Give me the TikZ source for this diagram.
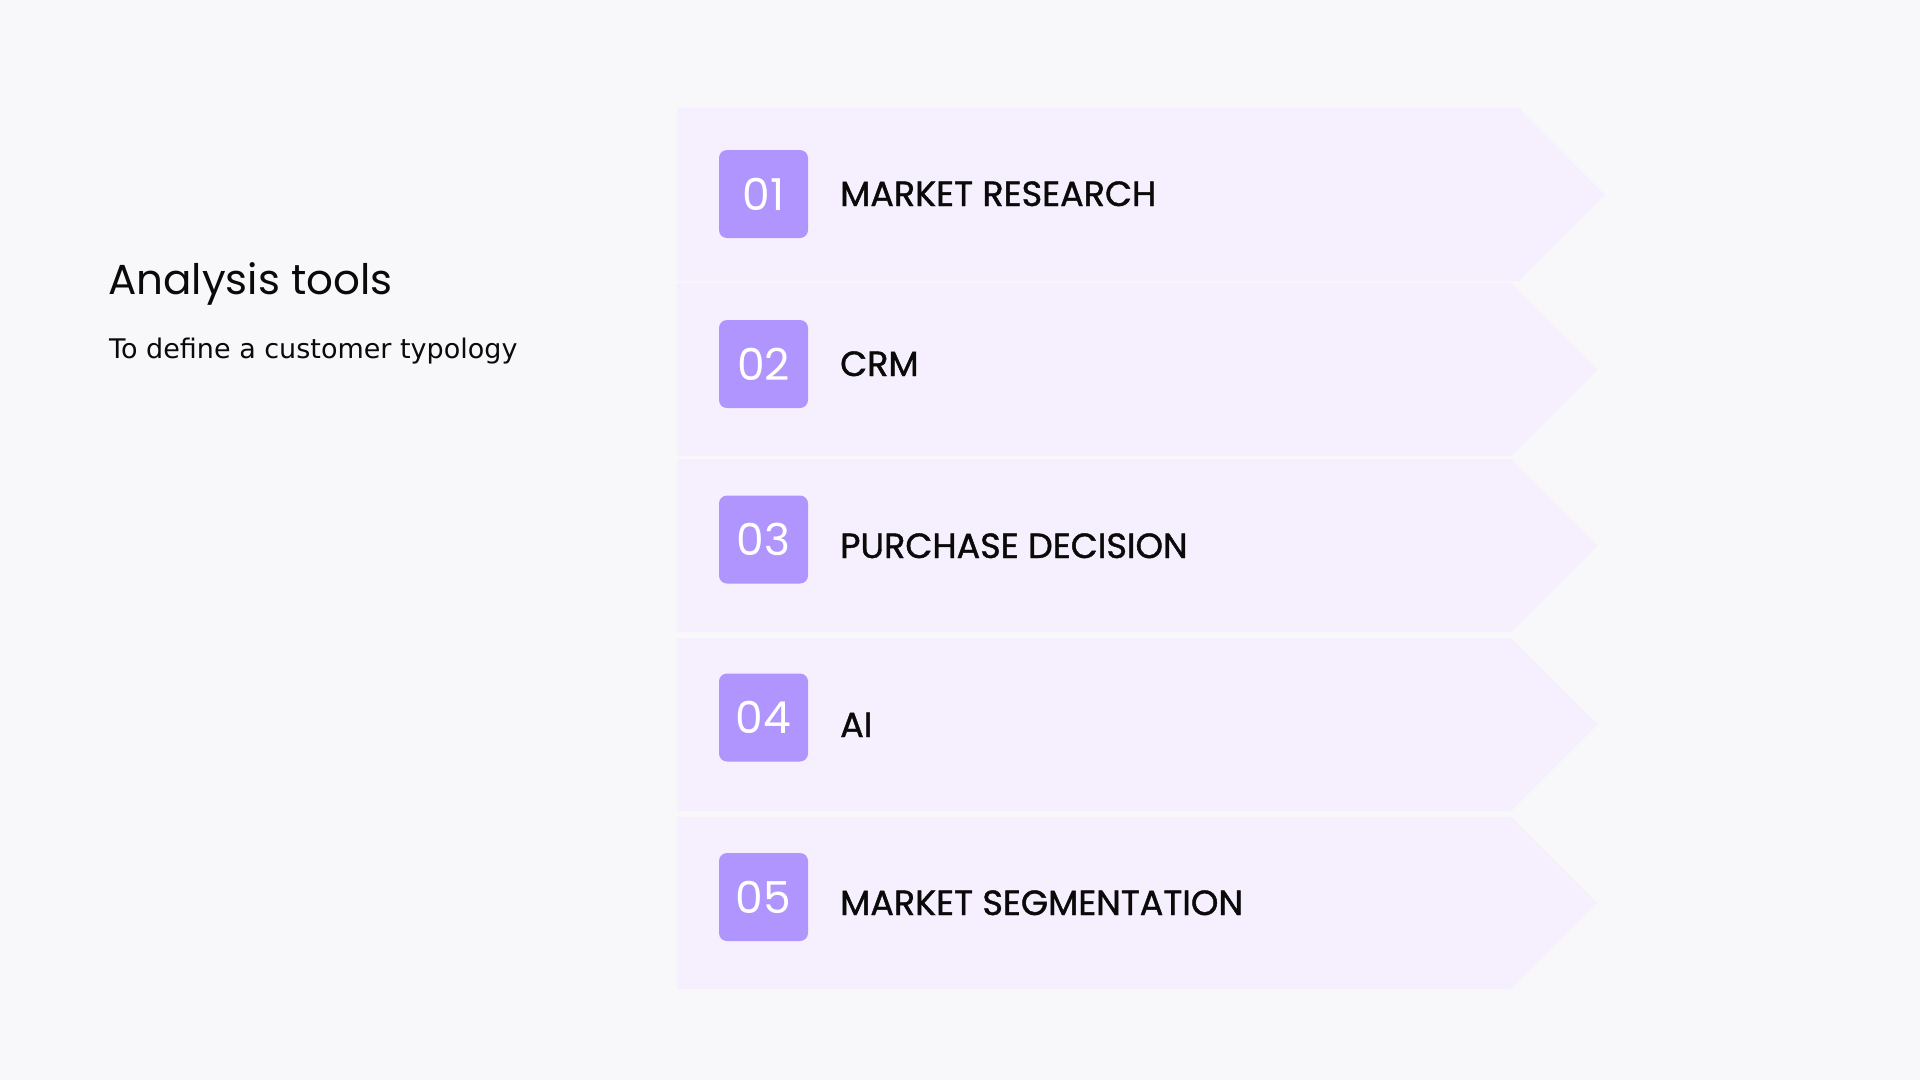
\documentclass[tikz,border=0pt]{standalone}
\usepackage{fontspec}
\setmainfont{Poppins}
\newfontfamily\subfont{DejaVu Sans}
\newfontfamily\labfont{Poppins}[FakeBold=1.2]
\definecolor{bg}{HTML}{F8F8FA}
\definecolor{band}{HTML}{F6F0FE}
\definecolor{badge}{HTML}{AF95FD}
\definecolor{ink}{HTML}{0A0A0A}
\tikzset{
  chevron/.style={fill=band, draw=none},
  badgebox/.style={fill=badge, rounded corners=8pt, minimum width=89pt, minimum height=88pt, inner sep=0pt},
  numtext/.style={text=white, font=\fontsize{44}{44}\selectfont, inner sep=0pt},
  labtext/.style={text=ink, font=\labfont\fontsize{35}{35}\selectfont, anchor=base west, inner sep=0pt},
}
\begin{document}
\begin{tikzpicture}[x=1pt,y=-1pt]
\fill[bg] (0,0) rectangle (1920,1080);
\useasboundingbox (0,0) rectangle (1920,1080);

% chevron bands
\fill[chevron] (677,108) -- (1519,108) -- (1605,194.5) -- (1519,281) -- (677,281) -- cycle;
\fill[chevron] (677,283) -- (1511,283) -- (1597.5,369.5) -- (1511,456) -- (677,456) -- cycle;
\fill[chevron] (677,459) -- (1511,459) -- (1597.5,545.5) -- (1511,632) -- (677,632) -- cycle;
\fill[chevron] (677,638) -- (1511,638) -- (1597.5,724.5) -- (1511,811) -- (677,811) -- cycle;
\fill[chevron] (677,817) -- (1511,817) -- (1597,903) -- (1511,989) -- (677,989) -- cycle;

% badges
\node[badgebox] (b1) at (763.5,194) {};
\node[badgebox] (b2) at (763.5,364) {};
\node[badgebox] (b3) at (763.5,539.5) {};
\node[badgebox] (b4) at (763.5,717.5) {};
\node[badgebox] (b5) at (763.5,897) {};
\node[numtext] (n1) at (b1) {01};
\node[numtext] (n2) at (b2) {02};
\node[numtext] (n3) at (b3) {03};
\node[numtext] (n4) at (b4) {04};
\node[numtext] (n5) at (b5) {05};

% labels
\node[labtext] (l1) at (840,206) {MARKET RESEARCH};
\node[labtext] (l2) at (840,376) {CRM};
\node[labtext] (l3) at (840,558) {PURCHASE DECISION};
\node[labtext] (l4) at (840,737) {AI};
\node[labtext] (l5) at (840,915) {MARKET SEGMENTATION};

% title
\node[anchor=base west, inner sep=0pt, text=ink, font=\fontsize{42}{42}\selectfont] (title) at (108,294) {Analysis tools};
\node[anchor=base west, inner sep=0pt, text=ink, font=\subfont\fontsize{27}{27}\selectfont] (sub) at (109,358) {To define a customer typology};
\end{tikzpicture}
\end{document}
